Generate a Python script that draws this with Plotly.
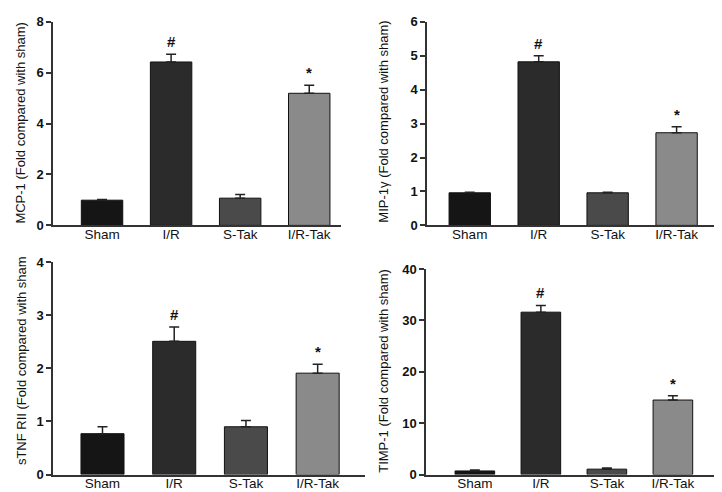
import plotly.graph_objects as go

categories = ["Sham", "I/R", "S-Tak", "I/R-Tak"]
colors = ["#151515", "#2b2b2b", "#4a4a4a", "#8a8a8a"]

mcp1_vals = [0.99, 6.42, 1.07, 5.19]
mcp1_err = [0.03, 0.30, 0.14, 0.32]
mip1g_vals = [0.96, 4.82, 0.96, 2.73]
mip1g_err = [0.02, 0.18, 0.02, 0.18]
stnf_vals = [0.77, 2.51, 0.90, 1.91]
stnf_err = [0.13, 0.27, 0.12, 0.17]
timp1_vals = [0.7, 31.6, 1.05, 14.5]
timp1_err = [0.2, 1.3, 0.2, 0.85]

marks = ["", "#", "", "*"]

W, H = 722, 492

def px_x(p):
    return p / W

def px_y(p):
    return 1 - p / H

panels = [
    dict(vals=mcp1_vals, err=mcp1_err, x0=45, x1=333, ytop=7, ybot=217, yr=[0, 8], dt=2,
         xr=[-0.71, 3.46], title="MCP-1 (Fold compared with sham)", tx=13, ty=111),
    dict(vals=mip1g_vals, err=mip1g_err, x0=419, x1=721, ytop=7, ybot=217, yr=[0, 6], dt=1,
         xr=[-0.62, 3.76], title="MIP-1γ (Fold compared with sham)", tx=376, ty=110),
    dict(vals=stnf_vals, err=stnf_err, x0=45, x1=357, ytop=255, ybot=474, yr=[0, 4], dt=1,
         xr=[-0.69, 3.66], title="sTNF RII (Fold compared with sham", tx=13, ty=357),
    dict(vals=timp1_vals, err=timp1_err, x0=418, x1=721, ytop=262, ybot=474, yr=[0, 40], dt=10,
         xr=[-0.74, 3.85], title="TIMP-1 (Fold compared with sham)", tx=376, ty=367),
]

fig = go.Figure()
layout = dict(width=W, height=H, margin=dict(l=0, r=0, t=0, b=0),
              paper_bgcolor="white", plot_bgcolor="white", showlegend=False,
              font=dict(family="Liberation Sans, Arial, sans-serif", color="#111"))
annotations = []
for i, p in enumerate(panels):
    n = i + 1
    xa = "x" if n == 1 else f"x{n}"
    ya = "y" if n == 1 else f"y{n}"
    fig.add_trace(go.Bar(
        x=list(range(len(categories))), y=p["vals"], xaxis=xa, yaxis=ya,
        width=0.6,
        marker=dict(color=colors, line=dict(color="#111", width=1)),
        error_y=dict(type="data", symmetric=False, array=p["err"],
                     arrayminus=[0] * len(p["err"]), color="#222", thickness=1.5, width=5),
    ))
    xkey = "xaxis" if n == 1 else f"xaxis{n}"
    ykey = "yaxis" if n == 1 else f"yaxis{n}"
    layout[xkey] = dict(domain=[px_x(p["x0"]), px_x(p["x1"])], anchor=ya, range=p["xr"],
                        tickmode="array", tickvals=list(range(len(categories))), ticktext=categories,
                        showline=True, linecolor="#333", linewidth=1.5, ticks="",
                        showgrid=False, zeroline=False, ticklabelstandoff=-4,
                        tickfont=dict(size=13.5, color="#111"))
    layout[ykey] = dict(domain=[px_y(p["ybot"]), px_y(p["ytop"])], anchor=xa, range=p["yr"],
                        dtick=p["dt"], showline=True, linecolor="#333", linewidth=1.5,
                        ticks="outside", ticklen=5, tickwidth=1.5, tickcolor="#333",
                        showgrid=False, zeroline=False,
                        tickfont=dict(size=13, color="#111", family="Liberation Sans, Arial, sans-serif", weight="bold"))
    for j, m in enumerate(marks):
        if m:
            annotations.append(dict(x=j, y=p["vals"][j] + p["err"][j], xref=xa, yref=ya,
                                    text=f"<b>{m}</b>", showarrow=False, yanchor="bottom",
                                    yshift=2, font=dict(size=15, color="#111")))
    annotations.append(dict(x=px_x(p["tx"]), y=px_y(p["ty"]), xref="paper", yref="paper",
                            text=p["title"], textangle=-90, showarrow=False,
                            xanchor="center", yanchor="middle",
                            font=dict(size=13, color="#111")))
layout["annotations"] = annotations
fig.update_layout(**layout)
fig.write_html("out.html")
